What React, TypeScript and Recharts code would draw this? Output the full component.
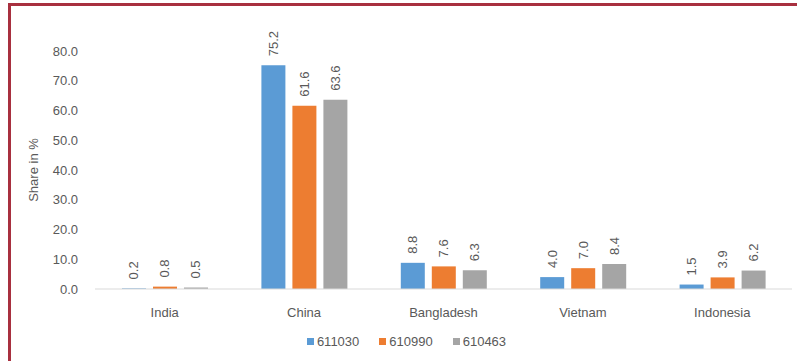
import { BarChart, Bar, XAxis, YAxis, Legend, LabelList } from 'recharts'

const countries = ['India', 'China', 'Bangladesh', 'Vietnam', 'Indonesia']
const seriesKeys = ['611030', '610990', '610463']
const seriesColors = ['#5b9bd5', '#ed7d31', '#a5a5a5']
const hs611030 = [0.2, 75.2, 8.8, 4.0, 1.5]
const hs610990 = [0.8, 61.6, 7.6, 7.0, 3.9]
const hs610463 = [0.5, 63.6, 6.3, 8.4, 6.2]
const yTicks = [0, 10, 20, 30, 40, 50, 60, 70, 80]

const data = countries.map((country, i) => ({
  country,
  '611030': hs611030[i],
  '610990': hs610990[i],
  '610463': hs610463[i],
}))

const font = '"Liberation Sans", Arial, sans-serif'
const textColor = '#595959'

// value labels sit above each bar, rotated to read bottom-up
const RotatedLabel = (props: any) => {
  const { x, y, width, value } = props
  const cx = x + width / 2
  const cy = y - 9
  return (
    <text
      x={cx}
      y={cy}
      transform={`rotate(-90, ${cx}, ${cy})`}
      textAnchor="start"
      dominantBaseline="central"
      fill={textColor}
      fontSize={13}
      fontFamily={font}
    >
      {Number(value).toFixed(1)}
    </text>
  )
}

const LegendContent = (props: any) => {
  const payload = [...(props.payload || [])].sort(
    (a: any, b: any) => seriesKeys.indexOf(String(a.dataKey)) - seriesKeys.indexOf(String(b.dataKey)),
  )
  return (
    <div style={{ display: 'flex', justifyContent: 'center', fontFamily: font, fontSize: 13, color: textColor }}>
      {payload.map((item: any) => (
        <div key={item.value} style={{ display: 'flex', alignItems: 'center', marginRight: 20 }}>
          <span style={{ width: 7, height: 7, background: item.color, display: 'inline-block', marginRight: 3 }} />
          <span>{item.value}</span>
        </div>
      ))}
    </div>
  )
}

export default function App() {
  return (
    <div style={{ position: 'absolute', left: 0, top: 0, width: 797, height: 361, background: '#fff', overflow: 'hidden' }}>
      <div
        style={{
          position: 'absolute',
          left: 8,
          top: 3,
          width: 800,
          height: 356,
          borderTop: '3px solid #a8303f',
          borderLeft: '3px solid #a8303f',
          borderBottom: '2px solid #c9606e',
        }}
      />
      <div style={{ position: 'absolute', left: 0, top: 0 }}>
        <BarChart
          width={797}
          height={361}
          data={data}
          margin={{ top: 51, right: 5, left: 20, bottom: 27 }}
          barSize={24}
          barGap={7}
        >
          <XAxis
            dataKey="country"
            axisLine={{ stroke: '#d9d9d9' }}
            tickLine={false}
            tickSize={0}
            tickMargin={19}
            height={30}
            tick={{ fill: textColor, fontSize: 13, fontFamily: font }}
          />
          <YAxis
            width={75}
            domain={[0, 80]}
            ticks={yTicks}
            axisLine={false}
            tickLine={false}
            tickSize={0}
            tickMargin={17}
            tickFormatter={(v: number) => v.toFixed(1)}
            tick={{ fill: textColor, fontSize: 13, fontFamily: font }}
            label={{
              value: 'Share in %',
              angle: -90,
              position: 'insideLeft',
              offset: 13,
              style: { fill: textColor, fontSize: 13, fontFamily: font, textAnchor: 'middle' },
            }}
          />
          <Legend
            verticalAlign="bottom"
            content={<LegendContent />}
            wrapperStyle={{ top: 334, bottom: 'auto', left: 18, width: 797 }}
          />
          {seriesKeys.map((key, i) => (
            <Bar key={key} dataKey={key} fill={seriesColors[i]} isAnimationActive={false}>
              <LabelList dataKey={key} content={<RotatedLabel />} />
            </Bar>
          ))}
        </BarChart>
      </div>
    </div>
  )
}
